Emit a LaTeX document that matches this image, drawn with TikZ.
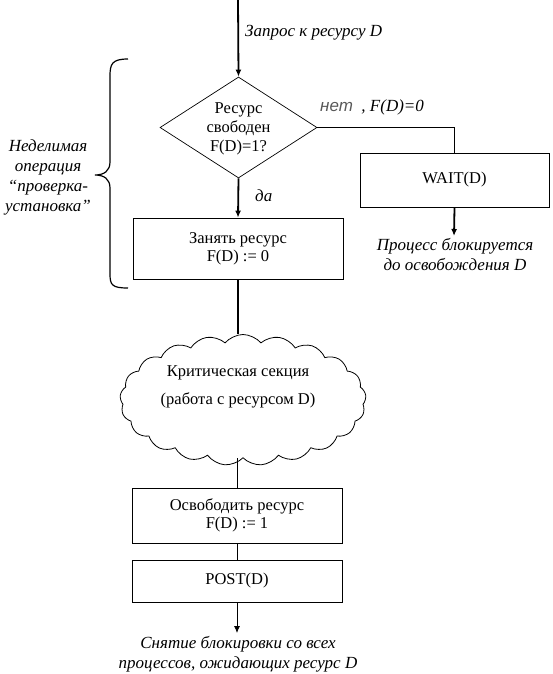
\documentclass[tikz,border=0pt]{standalone}
\usepackage{fontspec}
\setmainfont{Liberation Serif}
\newfontfamily\arialfont{Liberation Sans}
\usetikzlibrary{arrows.meta,shapes.geometric,shapes.symbols}
\begin{document}
\begin{tikzpicture}[x=1pt,y=-1pt,
  txt/.style={font=\fontsize{16.5}{19}\selectfont, align=center, inner sep=0pt},
  lbl/.style={font=\fontsize{17}{20}\selectfont\itshape, align=center, inner sep=0pt},
  box/.style={draw, line width=0.8pt, minimum width=210pt, inner sep=0pt, align=center, font=\fontsize{16.5}{18}\selectfont},
  thickln/.style={line width=1.8pt},
  thinln/.style={line width=0.8pt},
  tip/.style={-{Latex[length=7pt,width=6pt]}}
]
\useasboundingbox (0,0) rectangle (553,674);

\coordinate (top) at (238,0);
\node[draw, diamond, line width=0.7pt, minimum width=157pt, minimum height=101pt, inner sep=0pt] (d) at (238.5,127.5) {};
\node[txt] (dt) at (238.5,129) {Ресурс\\свободен\\F(D)=1?};

\node[box, minimum height=61pt] (zap) at (238,248.5) {Занять ресурс\\F(D) := 0};
\node[box, minimum width=189pt, minimum height=54pt] (wait) at (454.5,180) {WAIT(D)};

\node[draw, cloud, cloud puffs=21, cloud puff arc=100, cloud ignores aspect, line width=0.8pt, minimum width=246pt, minimum height=131pt, inner sep=0pt] (cloud) at (243,400) {};
\node[txt] (ct) at (238,387) {Критическая секция\\[9pt](работа с ресурсом D)};

\node[box, minimum height=55pt] (osv) at (237,515.5) {Освободить ресурс\\F(D) := 1};
\node[box, minimum height=42pt] (post) at (237,581) {POST(D)};

\coordinate (blk) at (454,236);
\coordinate (rel) at (237,633);

% connectors
\draw[thickln, tip] (top) -- (d.north);
\draw[thickln, tip] (d.south) -- (zap.north);
\draw[thickln] (d.east) -| (wait.north);
\draw[thickln, tip] (wait.south) -- (blk);
\draw[thickln] (zap.south) -- (zap.south |- cloud.north);
\draw[thinln] (osv.north |- cloud.south) -- (osv.north);
\draw[thinln] (osv.south) -- (post.north);
\draw[thinln, tip] (post.south) -- (rel);

% labels
\node[lbl, anchor=west] (lzap) at (245,33) {Запрос к ресурсу D};
\node[lbl, anchor=west] (lda) at (255,196) {да};
\node[lbl, anchor=west] (lnet) at (320,107) {{\arialfont\color{black!65}нет}\ \ , F(D)=0};
\node[lbl, anchor=north] (lblk) at (455,238) {Процесс блокируется\\до освобождения D};
\node[lbl, anchor=north] (lrel) at (238,636) {Снятие блокировки со всех\\процессов, ожидающих ресурс D};
\node[lbl] (lop) at (48,177) {Неделимая\\операция\\“проверка-\\установка”};

% brace
\draw[line width=1.2pt] (128,59) .. controls (112,59) and (110,64) .. (110,76)
  -- (110,162) .. controls (110,171) and (104,175) .. (95,175)
  .. controls (104,175) and (110,179) .. (110,188)
  -- (110,274) .. controls (110,285) and (112,288) .. (128,288);
\end{tikzpicture}
\end{document}
